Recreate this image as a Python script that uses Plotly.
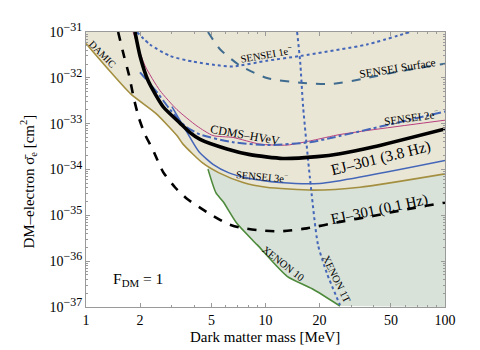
import math
import plotly.graph_objects as go

# ---------------- data ----------------
damic_m = [1.0, 1.36, 1.78, 2.45, 3.21, 3.47, 4.48, 5.51, 7.5, 10.1, 18.4, 33.6, 100]
damic_s = [5.6e-32, 1.39e-32, 4.4e-33, 1.67e-33, 5.5e-34, 3.58e-34, 1.37e-34, 8.45e-35, 5.2e-35, 4.1e-35, 3.55e-35, 4.1e-35, 8.05e-35]

xenon10_m = [4.78, 5.30, 5.80, 6.94, 8.97, 13.2, 18.2, 26.0]
xenon10_s = [1.02e-34, 3.08e-35, 2.0e-35, 6.6e-36, 2.29e-36, 4.67e-37, 2.5e-37, 1.05e-37]

xenon1t_m = [15.0, 15.6, 16.2, 17.7, 19.6, 22.0, 26.0]
xenon1t_s = [1e-31, 2.25e-32, 2.34e-33, 6.3e-35, 2.29e-36, 5.4e-37, 1.1e-37]

sensei1_m = [1.92, 2.27, 2.94, 3.95, 5.58, 6.59, 10.2, 15.6, 36.8, 63.8]
sensei1_s = [1e-31, 5.35e-32, 3.0e-32, 2.25e-32, 1.85e-32, 1.77e-32, 2.36e-32, 3.0e-32, 5.35e-32, 1e-31]

surface_m = [4.78, 5.58, 7.21, 10.2, 15.6, 23.8, 36.8, 56.1, 100]
surface_s = [1e-31, 4.2e-32, 1.85e-32, 9.9e-33, 7.8e-33, 7.4e-33, 9.9e-33, 1.39e-32, 2.04e-32]

sensei2_m = [2.0, 2.49, 2.94, 3.56, 4.32, 6.59, 10.2, 17.7, 23.8, 100]
sensei2_s = [1.32e-32, 4.8e-33, 2.03e-33, 8.9e-34, 5.8e-34, 3.94e-34, 3.41e-34, 3.94e-34, 5.0e-34, 1.84e-33]

sensei3_m = [3.01, 3.61, 4.26, 5.10, 6.26, 7.79, 12.05, 20.1, 100]
sensei3_s = [2.34e-33, 7.0e-34, 2.44e-34, 1.30e-34, 8.45e-35, 6.6e-35, 5.2e-35, 4.97e-35, 1.58e-34]

cdms_m = [1.83, 2.13, 2.58, 3.21, 4.15, 5.10, 6.59, 9.31, 13.2, 18.4, 26.0, 100]
cdms_s = [1e-31, 1.85e-32, 5.3e-33, 2.03e-33, 8.9e-34, 5.5e-34, 5.0e-34, 3.58e-34, 3.41e-34, 4.34e-34, 5.8e-34, 1.19e-33]

ej38_m = [1.875, 2.0, 2.22, 2.69, 3.34, 3.80, 4.32, 6.10, 8.20, 12.5, 19.4, 26.0, 39.7, 100]
ej38_s = [1e-31, 3.0e-32, 8.6e-33, 2.34e-33, 1.03e-33, 6.4e-34, 4.55e-34, 2.81e-34, 2.11e-34, 1.74e-34, 1.91e-34, 2.21e-34, 3.1e-34, 7.7e-34]

ej01_m = [1.51, 1.628, 1.736, 1.851, 1.974, 2.132, 2.36, 2.685, 3.13, 3.65, 4.72, 6.10, 7.21, 9.31, 12.05, 17.0, 26.0, 39.7, 61.4, 100]
ej01_s = [1e-31, 3.0e-32, 1.15e-32, 3.44e-33, 1.31e-33, 5.8e-34, 2.68e-34, 8.9e-35, 4.1e-35, 2.3e-35, 1.17e-35, 6.6e-36, 5.4e-36, 4.7e-36, 4.48e-36, 5.2e-36, 7.2e-36, 9.7e-36, 1.36e-35, 1.9e-35]

x_ticks = [1, 2, 5, 10, 20, 50, 100]
y_exps = [-31, -32, -33, -34, -35, -36, -37]

# ---------------- styles ----------------
BEIGE = "#EAE6D6"
GREENFILL = "#D8E2D9"
GOLD = "#A38F3F"
GREEN = "#4E8A3C"
BLUE = "#4466B8"
STEEL = "#3F6B8E"
MAGENTA = "#B8407E"
FONT = "Liberation Serif"

fig = go.Figure()

# green region above XENON10
gx = xenon10_m + [100, 100, xenon10_m[0]]
gy = xenon10_s + [1e-37, 1e-31, 1e-31]
fig.add_trace(go.Scatter(x=gx, y=gy, fill="toself", fillcolor=GREENFILL,
                         line=dict(width=0), mode="lines", hoverinfo="skip"))
# beige region above DAMIC/SENSEI envelope
bx = damic_m + [100, 1]
by = damic_s + [1e-31, 1e-31]
fig.add_trace(go.Scatter(x=bx, y=by, fill="toself", fillcolor=BEIGE,
                         line=dict(width=0), mode="lines", hoverinfo="skip"))

def line(x, y, color, width, dash="solid"):
    fig.add_trace(go.Scatter(x=x, y=y, mode="lines",
                             line=dict(color=color, width=width, dash=dash, shape="spline", smoothing=0.6),
                             hoverinfo="skip"))

line(xenon10_m, xenon10_s, GREEN, 1.6)
line(damic_m, damic_s, GOLD, 1.6)
line(sensei3_m, sensei3_s, BLUE, 1.5)
line(cdms_m, cdms_s, MAGENTA, 1.0)
line(sensei2_m, sensei2_s, BLUE, 2.0, "dashdot")
line(sensei1_m, sensei1_s, BLUE, 2.0, "dot")
line(surface_m, surface_s, STEEL, 2.0, "dash")
line(xenon1t_m, xenon1t_s, BLUE, 2.0, "dot")
line(ej01_m, ej01_s, "black", 2.6, "dash")
line(ej38_m, ej38_s, "black", 3.6)

def ann(text, m, s, angle=0, size=9):
    fig.add_annotation(x=math.log10(m), y=math.log10(s), text=text, showarrow=False,
                       xanchor="center", yanchor="middle",
                       textangle=angle, font=dict(family=FONT, size=size, color="black"))

ann("DAMIC", 1.243, 3.3e-32, 45, 10)
ann("SENSEI 1e<sup>−</sup>", 10.07, 3.47e-32, -10, 10.5)
ann("SENSEI Surface", 54.7, 1.61e-32, -9, 11.5)
ann("SENSEI 2e<sup>−</sup>", 64.7, 1.38e-33, -8, 11)
ann("CDMS–HVeV", 7.69, 5.8e-34, 10, 12)
ann("EJ–301 (3.8 Hz)", 44.0, 1.74e-34, -14, 15.5)
ann("SENSEI 3e<sup>−</sup>", 9.56, 7.3e-35, 5, 10.5)
ann("EJ–301 (0.1 Hz)", 43.4, 1.36e-35, -12, 15)
ann("XENON 10", 12.5, 8.7e-37, 38, 10.5)
ann("XENON 1T", 25.0, 4.04e-37, 64, 10.5)
ann("F<sub>DM</sub> = 1", 1.95, 4.04e-37, 0, 15.5)

# axis titles placed as paper annotations
fig.add_annotation(xref="paper", yref="paper", x=0.4986, y=-0.108, text="Dark matter mass [MeV]",
                   xanchor="center", yanchor="middle",
                   showarrow=False, font=dict(family=FONT, size=15, color="black"))
fig.add_annotation(xref="paper", yref="paper", x=-0.1616, y=0.456,
                   text="DM–electron σ̄<sub>e</sub> [cm<sup>2</sup>]", textangle=-90,
                   xanchor="center", yanchor="middle",
                   showarrow=False, font=dict(family=FONT, size=15, color="black"))

axis_common = dict(showline=True, linecolor="#9a9a9a", linewidth=1, mirror="allticks",
                   ticks="inside", ticklen=4, tickcolor="#9a9a9a", showgrid=False, zeroline=False,
                   ticklabeloverflow="allow",
                   tickfont=dict(family=FONT, size=14, color="black"))

fig.update_xaxes(type="log", range=[0, 2], tickvals=x_ticks, ticktext=[str(v) for v in x_ticks],
                 minor=dict(ticks="inside", ticklen=2, tickcolor="#9a9a9a",
                            tickvals=[3, 4, 6, 7, 8, 9, 30, 40, 60, 70, 80, 90]),
                 **axis_common)
fig.update_yaxes(type="log", range=[-37, -31], tickvals=[10.0 ** e for e in y_exps],
                 ticktext=["10<sup><span style='font-size:12px'>−%d</span></sup>" % (-e) for e in y_exps],
                 minor=dict(ticks="inside", ticklen=2, tickcolor="#9a9a9a",
                            tickvals=[k * 10.0 ** e for e in range(-37, -31) for k in range(2, 10)]),
                 **axis_common)

fig.update_layout(width=472, height=342, margin=dict(l=78, r=35, t=12, b=43),
                  paper_bgcolor="white", plot_bgcolor="white", showlegend=False,
                  font=dict(family=FONT))

fig.write_html("out.html")
